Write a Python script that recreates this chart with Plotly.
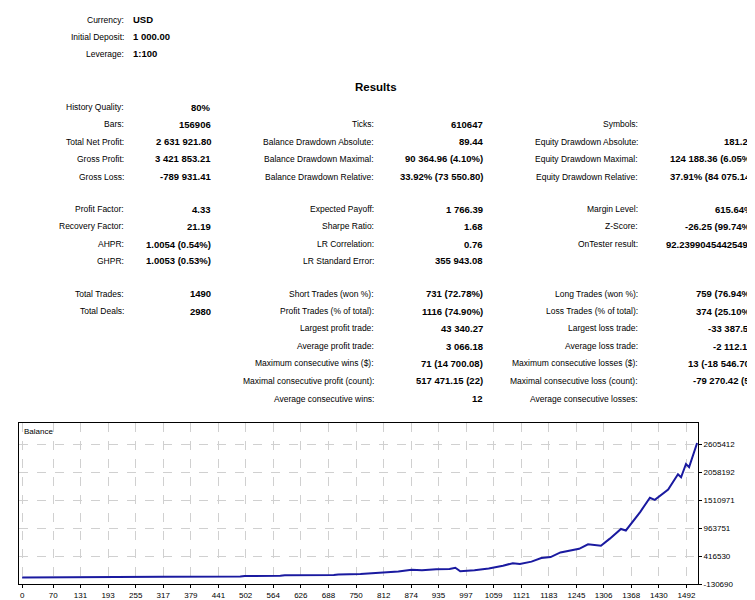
import plotly.graph_objects as go

W, H = 755, 600

# header block
head_labels = ["Currency:", "Initial Deposit:", "Leverage:"]
head_values = ["USD", "1 000.00", "1:100"]
head_rows = [12, 29, 46]

# results table, one list per column (label, value)
col1_labels = ["History Quality:", "Bars:", "Total Net Profit:", "Gross Profit:", "Gross Loss:",
               "Profit Factor:", "Recovery Factor:", "AHPR:", "GHPR:", "Total Trades:", "Total Deals:"]
col1_values = ["80%", "156906", "2 631 921.80", "3 421 853.21", "-789 931.41",
               "4.33", "21.19", "1.0054 (0.54%)", "1.0053 (0.53%)", "1490", "2980"]
col1_rows = [100, 117, 135, 152, 170, 203, 220, 238, 255, 288, 306]

col2_labels = ["Ticks:", "Balance Drawdown Absolute:", "Balance Drawdown Maximal:", "Balance Drawdown Relative:",
               "Expected Payoff:", "Sharpe Ratio:", "LR Correlation:", "LR Standard Error:",
               "Short Trades (won %):", "Profit Trades (% of total):", "Largest profit trade:",
               "Average profit trade:", "Maximum consecutive wins ($):", "Maximal consecutive profit (count):",
               "Average consecutive wins:"]
col2_values = ["610647", "89.44", "90 364.96 (4.10%)", "33.92% (73 550.80)",
               "1 766.39", "1.68", "0.76", "355 943.08",
               "731 (72.78%)", "1116 (74.90%)", "43 340.27",
               "3 066.18", "71 (14 700.08)", "517 471.15 (22)", "12"]
col2_rows = [117, 135, 152, 170, 203, 220, 238, 255, 288, 306, 323, 341, 358, 376, 394]

col3_labels = ["Symbols:", "Equity Drawdown Absolute:", "Equity Drawdown Maximal:", "Equity Drawdown Relative:",
               "Margin Level:", "Z-Score:", "OnTester result:",
               "Long Trades (won %):", "Loss Trades (% of total):", "Largest loss trade:",
               "Average loss trade:", "Maximum consecutive losses ($):", "Maximal consecutive loss (count):",
               "Average consecutive losses:"]
col3_values = ["1", "181.20", "124 188.36 (6.05%)", "37.91% (84 075.14)",
               "615.64%", "-26.25 (99.74%)", "92.23990454425498",
               "759 (76.94%)", "374 (25.10%)", "-33 387.59",
               "-2 112.12", "13 (-18 546.70)", "-79 270.42 (5)", "4"]
col3_rows = [117, 135, 152, 170, 203, 220, 238, 288, 306, 323, 341, 358, 376, 394]

# balance curve (trade number, balance)
trade_no = [0, 316, 317, 490, 500, 580, 590, 700, 710, 760, 790, 820, 845, 875, 898, 930, 960, 973,
            984, 1016, 1048, 1080, 1102, 1118, 1144, 1166, 1187, 1209, 1226, 1251, 1271, 1285, 1300,
            1320, 1345, 1356, 1388, 1410, 1421, 1451, 1473, 1480, 1491, 1498, 1508, 1516]
balance = [1000, 1000, 15000, 17000, 30000, 32000, 45000, 48000, 58000, 70000, 85000, 100000, 115000,
           150000, 140000, 160000, 165000, 190000, 120000, 140000, 175000, 230000, 280000, 265000,
           310000, 380000, 400000, 490000, 520000, 560000, 650000, 640000, 620000, 760000, 950000,
           920000, 1280000, 1560000, 1520000, 1720000, 2020000, 1960000, 2220000, 2160000, 2450000, 2631922]

y_ticks = [-130690, 416530, 963751, 1510971, 2058192, 2605412]
x_ticks = [0, 70, 131, 193, 255, 317, 379, 441, 502, 564, 626, 688, 750, 812, 874, 935, 997,
           1059, 1121, 1183, 1245, 1306, 1368, 1430, 1492]

FONT = "Liberation Sans"
TXT = "#000000"


def px(x):
    return x / W


def py(y):
    return 1 - y / H


fig = go.Figure()
fig.add_trace(go.Scatter(x=trade_no, y=balance, mode="lines",
                         line=dict(color="#1a1aa0", width=2), showlegend=False))

ann = []


def label(x, y, text, anchor, bold=False, size=8.5):
    ann.append(dict(x=px(x), y=py(y), xref="paper", yref="paper", text=f"<b>{text}</b>" if bold else text,
                    showarrow=False, xanchor=anchor, yanchor="middle",
                    font=dict(family=FONT, size=size, color=TXT)))


for t, v, r in zip(head_labels, head_values, head_rows):
    label(118, r, t, "right")
    label(123, r, v, "left", bold=True, size=9.5)

label(368, 80, "Results", "center", bold=True, size=11.5)

for labs, vals, rows, lx, vx in [(col1_labels, col1_values, col1_rows, 118, 205),
                                 (col2_labels, col2_values, col2_rows, 368, 477),
                                 (col3_labels, col3_values, col3_rows, 632, 747)]:
    for t, v, r in zip(labs, vals, rows):
        label(lx, r, t, "right")
        label(vx, r, v, "right", bold=True, size=9.5)

ann.append(dict(x=px(14), y=py(427), xref="paper", yref="paper", text="Balance", showarrow=False,
                xanchor="left", yanchor="middle", font=dict(family=FONT, size=8, color=TXT)))

# y range: box bottom = -130690, 28.2px per tick step
step = y_ticks[1] - y_ticks[0]
top_val = y_ticks[0] + (581 - 418) / 28.2 * step

tick_font = dict(family=FONT, size=8, color=TXT)
fig.update_layout(
    width=W, height=H, margin=dict(l=0, r=0, t=0, b=0),
    paper_bgcolor="white", plot_bgcolor="white",
    annotations=ann,
    xaxis=dict(domain=[px(11), px(690)], range=[-7, 1518], tickvals=x_ticks,
               ticktext=[str(v) for v in x_ticks], showgrid=True, gridcolor="#d0d0d0", griddash="dash",
               gridwidth=1, zeroline=False, showline=True, linecolor="black", linewidth=1, mirror=True,
               ticks="outside", ticklen=3, tickcolor="black", tickfont=tick_font),
    yaxis=dict(domain=[1 - 581 / H, 1 - 418 / H], range=[y_ticks[0], top_val], side="right",
               tickvals=y_ticks, ticktext=[str(v) for v in y_ticks], showgrid=True, gridcolor="#d0d0d0",
               griddash="dash", zeroline=False, showline=True, linecolor="black", linewidth=1, mirror=True,
               ticks="outside", ticklen=3, tickcolor="black", tickfont=tick_font),
)

fig.write_html("out.html")
